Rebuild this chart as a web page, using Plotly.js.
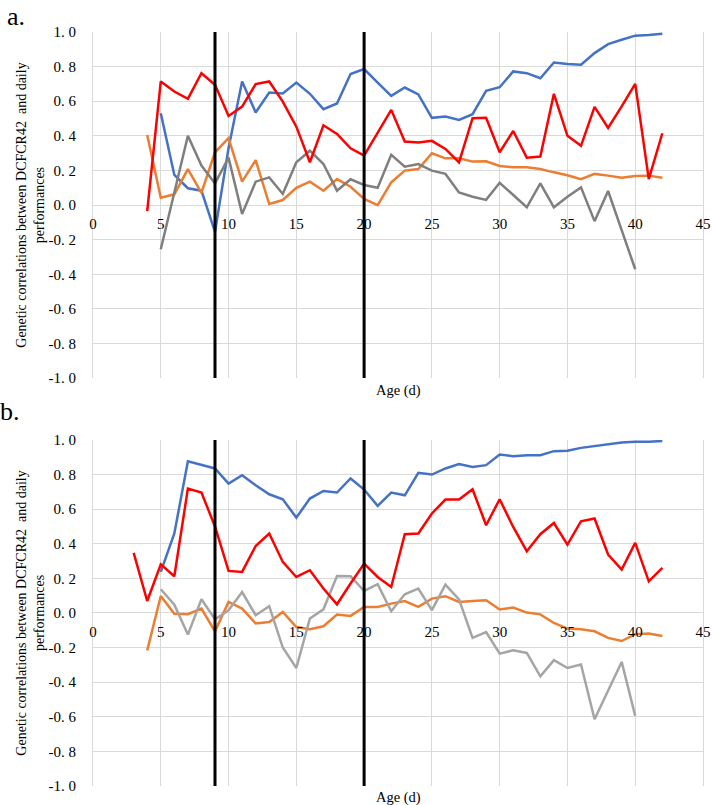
<!DOCTYPE html>
<html>
<head>
<meta charset="utf-8">
<script src="https://cdn.plot.ly/plotly-3.0.1.min.js"></script>
<style>html,body{margin:0;padding:0;background:#fff;}#chart{width:712px;height:805px;}</style>
</head>
<body>
<div id="chart"></div>
<script>
// Ages (days)
const ages = [3,4,5,6,7,8,9,10,11,12,13,14,15,16,17,18,19,20,21,22,23,24,25,26,27,28,29,30,31,32,33,34,35,36,37,38,39,40,41,42];

// Panel a
const blueA = [null,null,0.53,0.174,0.097,0.083,-0.155,0.33,0.714,0.535,0.65,0.645,0.708,0.643,0.554,0.587,0.757,0.786,0.708,0.631,0.679,0.639,0.504,0.511,0.492,0.525,0.66,0.681,0.772,0.762,0.733,0.824,0.815,0.811,0.878,0.93,0.955,0.979,0.983,0.99];
const redA = [null,-0.035,0.714,0.656,0.614,0.762,0.695,0.515,0.569,0.699,0.714,0.598,0.453,0.247,0.461,0.411,0.328,0.286,0.42,0.55,0.367,0.361,0.371,0.324,0.247,0.502,0.504,0.305,0.428,0.274,0.28,0.643,0.4,0.342,0.567,0.446,0.57,0.70,0.15,0.415];
const orangeA = [null,0.405,0.042,0.062,0.208,0.071,0.305,0.386,0.135,0.26,0.006,0.029,0.10,0.135,0.083,0.15,0.106,0.035,0.0,0.131,0.199,0.208,0.299,0.27,0.27,0.251,0.253,0.226,0.218,0.218,0.208,0.189,0.172,0.15,0.18,0.17,0.158,0.168,0.17,0.158];
const grayA = [null,null,-0.255,0.07,0.40,0.228,0.125,0.274,-0.052,0.135,0.16,0.064,0.247,0.314,0.237,0.083,0.149,0.116,0.1,0.29,0.222,0.237,0.199,0.18,0.073,0.048,0.03,0.129,0.06,-0.013,0.125,-0.013,0.048,0.102,-0.093,0.081,-0.145,-0.371,null,null];

// Panel b
const blueB = [null,null,0.237,0.459,0.877,0.858,0.835,0.748,0.796,0.738,0.686,0.657,0.551,0.661,0.705,0.696,0.777,0.713,0.619,0.696,0.68,0.81,0.8,0.835,0.86,0.844,0.854,0.915,0.906,0.912,0.912,0.935,0.937,0.954,0.965,0.975,0.985,0.989,0.989,0.994];
const redB = [0.347,0.069,0.281,0.212,0.719,0.696,0.50,0.243,0.237,0.387,0.459,0.295,0.208,0.247,0.141,0.05,0.17,0.285,0.208,0.15,0.455,0.459,0.575,0.655,0.655,0.715,0.507,0.657,0.497,0.357,0.455,0.52,0.395,0.53,0.546,0.338,0.251,0.405,0.183,0.26];
const orangeB = [null,-0.216,0.098,-0.004,-0.007,0.025,-0.106,0.064,0.025,-0.061,-0.052,0.006,-0.081,-0.094,-0.077,-0.009,-0.017,0.035,0.035,0.054,0.069,0.035,0.083,0.097,0.064,0.069,0.073,0.02,0.031,0.002,-0.008,-0.058,-0.09,-0.094,-0.106,-0.144,-0.162,-0.123,-0.119,-0.133];
const grayB = [null,null,0.137,0.048,-0.125,0.079,-0.036,0.015,0.121,-0.013,0.039,-0.2,-0.318,-0.032,0.021,0.214,0.212,0.127,0.166,0.01,0.108,0.141,0.016,0.164,0.079,-0.144,-0.11,-0.235,-0.216,-0.231,-0.366,-0.273,-0.318,-0.298,-0.614,-0.45,-0.283,-0.595,null,null];

// Reference ages marked with vertical lines
const markerAges = [9, 20];

// Tick labels
const yTickVals = [-1,-0.8,-0.6,-0.4,-0.2,0,0.2,0.4,0.6,0.8,1];
const yTickText = ['-1. 0','-0. 8','-0. 6','-0. 4','-0. 2','0. 0','0. 2','0. 4','0. 6','0. 8','1. 0'];
const xTickVals = [0,5,10,15,20,25,30,35,40,45];
const xTickText = ['0','5','10','15','20','25','30','35','40','45'];

const FONT = '"Liberation Serif", "DejaVu Serif", serif';
const GRID = '#d9d9d9';
const colA = {blue:'#4472C4', red:'#FF0000', orange:'#ED7D31', gray:'#7F7F7F'};
const colB = {blue:'#4472C4', red:'#FF0000', orange:'#ED7D31', gray:'#A5A5A5'};

function tr(y, color, xa, ya, name) {
  return {x: ages, y: y, type:'scatter', mode:'lines', name: name, xaxis: xa, yaxis: ya,
          line:{color: color, width: 2.5}, connectgaps:false, hoverinfo:'x+y'};
}

const data = [
  tr(blueA, colA.blue, 'x', 'y', 'a blue'),
  tr(orangeA, colA.orange, 'x', 'y', 'a orange'),
  tr(grayA, colA.gray, 'x', 'y', 'a gray'),
  tr(redA, colA.red, 'x', 'y', 'a red'),
  tr(blueB, colB.blue, 'x2', 'y2', 'b blue'),
  tr(orangeB, colB.orange, 'x2', 'y2', 'b orange'),
  tr(grayB, colB.gray, 'x2', 'y2', 'b gray'),
  tr(redB, colB.red, 'x2', 'y2', 'b red')
];

const domA = [0.541, 1];
const domB = [0, 0.459];
const yRange = [-1, 1];
function zeroPos(dom) { return dom[0] + (0 - yRange[0]) / (yRange[1] - yRange[0]) * (dom[1] - dom[0]); }

const yTitle = 'Genetic correlations between DCFCR42\u00a0 and daily<br>performances';

function yax(dom) {
  return {domain: dom, range: yRange, tickmode: 'array', tickvals: yTickVals, ticktext: yTickText,
          tickfont: {family: FONT, size: 15, color: '#000'},
          showgrid: true, gridcolor: GRID, gridwidth: 1, zeroline: false,
          showline: true, linecolor: GRID, linewidth: 1, mirror: true,
          ticks: 'outside', ticklen: 13, tickcolor: 'rgba(0,0,0,0)',
          title: {text: yTitle, font: {family: FONT, size: 14, color: '#000'}, standoff: 0}};
}
function xTicksAxis(dom) {
  return {anchor: 'free', position: zeroPos(dom), range: [0,45], tickmode: 'array', tickvals: xTickVals, ticktext: xTickText,
          tickfont: {family: FONT, size: 15, color: '#000'},
          showgrid: true, gridcolor: GRID, gridwidth: 1, zeroline: false, showline: false,
          ticks: 'outside', ticklen: 5, tickcolor: 'rgba(0,0,0,0)'};
}

const shapes = [];
markerAges.forEach(a => {
  shapes.push({type:'line', xref:'x', yref:'y domain', x0:a, x1:a, y0:0, y1:1, line:{color:'#000', width:3}, layer:'above'});
  shapes.push({type:'line', xref:'x2', yref:'y2 domain', x0:a, x1:a, y0:0, y1:1, line:{color:'#000', width:3}, layer:'above'});
});

const titleFont = {family: FONT, size: 14.5, color: '#000'};
const layout = {
  width: 712, height: 805,
  margin: {l: 93, r: 9, t: 32, b: 19},
  paper_bgcolor: '#fff', plot_bgcolor: '#fff',
  showlegend: false,
  font: {family: FONT, size: 14, color: '#000'},
  xaxis: xTicksAxis(domA),
  xaxis2: xTicksAxis(domB),
  yaxis: yax(domA),
  yaxis2: yax(domB),
  shapes: shapes,
  annotations: [
    {text: 'Age (d)', xref: 'paper', yref: 'paper', x: 0.5, y: domA[0], xanchor: 'center', yanchor: 'top', yshift: -2, showarrow: false, font: titleFont},
    {text: 'Age (d)', xref: 'paper', yref: 'paper', x: 0.5, y: domB[0], xanchor: 'center', yanchor: 'top', yshift: -1, showarrow: false, font: titleFont},
    {text: 'a.', xref: 'paper', yref: 'paper', x: -0.145, y: 1.0424, xanchor: 'left', yanchor: 'top', showarrow: false, font: {family: FONT, size: 26, color: '#000'}},
    {text: 'b.', xref: 'paper', yref: 'paper', x: -0.155, y: 0.519, xanchor: 'left', yanchor: 'top', showarrow: false, font: {family: FONT, size: 26, color: '#000'}}
  ]
};

Plotly.newPlot('chart', data, layout, {displayModeBar: false, staticPlot: true});
</script>
</body>
</html>
